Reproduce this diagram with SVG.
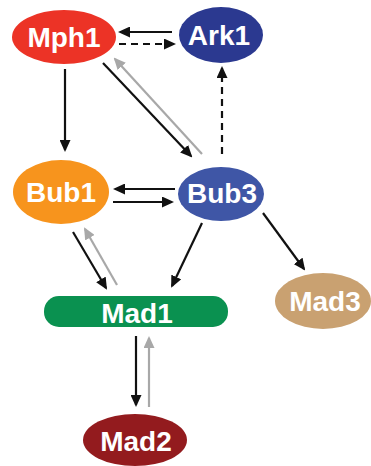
<svg xmlns="http://www.w3.org/2000/svg" width="371" height="466" viewBox="0 0 371 466">
  <style>
    .lbl { font-family: "Liberation Sans", Arial, sans-serif; font-weight: bold; font-size: 28px; fill: #ffffff; text-anchor: middle; }
    .k { stroke: #111111; stroke-width: 2.2; fill: none; marker-end: url(#headK); }
    .g { stroke: #a8a8a8; stroke-width: 2.2; fill: none; marker-end: url(#headG); }
    .d { stroke-dasharray: 7 5; }
  </style>
  <defs>
    <marker id="headK" markerUnits="userSpaceOnUse" markerWidth="12" markerHeight="11" refX="10" refY="5.5" orient="auto">
      <path d="M0,0 L12,5.5 L0,11 z" fill="#111111"/>
    </marker>
    <marker id="headG" markerUnits="userSpaceOnUse" markerWidth="12" markerHeight="11" refX="10" refY="5.5" orient="auto">
      <path d="M0,0 L12,5.5 L0,11 z" fill="#a8a8a8"/>
    </marker>
  </defs>
  <rect width="371" height="466" fill="#ffffff"/>

  <g id="connectors">
    <line class="k" x1="172" y1="32" x2="120" y2="32"/>
    <line class="k d" x1="119" y1="44" x2="174" y2="44"/>
    <line class="k d" x1="222" y1="154" x2="222" y2="68"/>
    <line class="k" x1="65" y1="69" x2="65" y2="150"/>
    <line class="k" x1="103" y1="63" x2="191" y2="156"/>
    <line class="g" x1="202" y1="154" x2="115" y2="59"/>
    <line class="k" x1="175" y1="189" x2="115" y2="189"/>
    <line class="k" x1="113" y1="202" x2="172" y2="202"/>
    <line class="k" x1="73" y1="232" x2="106" y2="288"/>
    <line class="g" x1="117" y1="285" x2="85" y2="229"/>
    <line class="k" x1="202" y1="223" x2="172" y2="286"/>
    <line class="k" x1="263" y1="213" x2="304" y2="269"/>
    <line class="k" x1="136" y1="336" x2="136" y2="405"/>
    <line class="g" x1="149" y1="407" x2="149" y2="338"/>
  </g>

  <g id="Mph1">
    <ellipse cx="64" cy="37" rx="52" ry="27" fill="#ec3326"/>
    <text class="lbl" x="64" y="47">Mph1</text>
  </g>
  <g id="Ark1">
    <ellipse cx="221" cy="35" rx="42" ry="28" fill="#2b3990"/>
    <text class="lbl" x="219" y="45">Ark1</text>
  </g>
  <g id="Bub1">
    <ellipse cx="61" cy="192" rx="48" ry="32" fill="#f7941d"/>
    <text class="lbl" x="61" y="202">Bub1</text>
  </g>
  <g id="Bub3">
    <ellipse cx="221" cy="194" rx="43" ry="27" fill="#3f56a6"/>
    <text class="lbl" x="222" y="203">Bub3</text>
  </g>
  <g id="Mad3">
    <ellipse cx="323" cy="301" rx="48" ry="28" fill="#c9a171"/>
    <text class="lbl" x="325" y="311">Mad3</text>
  </g>
  <g id="Mad1">
    <rect x="44" y="296" width="184" height="31" rx="15" fill="#0a9150"/>
    <text class="lbl" x="137" y="323">Mad1</text>
  </g>
  <g id="Mad2">
    <ellipse cx="135" cy="440" rx="52" ry="26" fill="#931b1e"/>
    <text class="lbl" x="136" y="451">Mad2</text>
  </g>
</svg>
